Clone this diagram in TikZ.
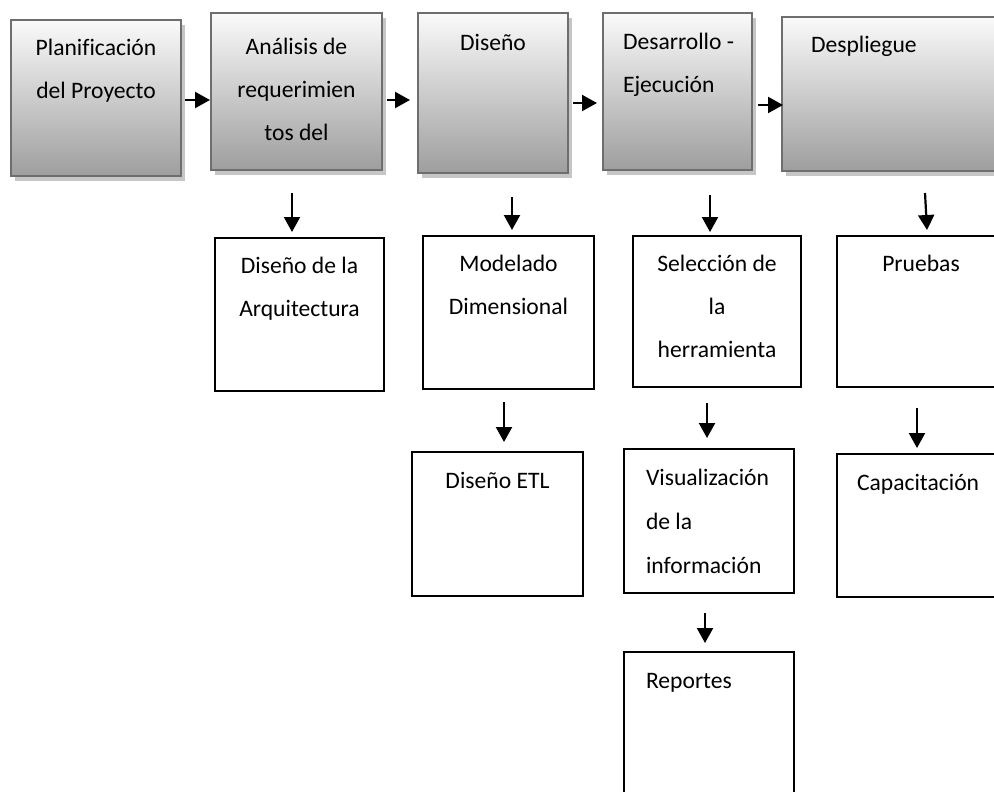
\documentclass[tikz,border=0pt]{standalone}
\usepackage{fontspec}
\setmainfont[Ligatures=NoCommon]{Carlito}
\usetikzlibrary{arrows.meta,shadows}
\definecolor{boxedge}{HTML}{6E6E6E}
\definecolor{shadowgrey}{HTML}{C6C6C6}
\definecolor{gradtop}{HTML}{FAFAFA}
\definecolor{gradbot}{HTML}{9E9E9E}
% centred text block: width, height, first baseline, text
\newcommand{\mkcenter}[4]{\parbox[t][#2][t]{#1}{\fontsize{11.8pt}{21.5pt}\selectfont\centering\rule{0pt}{#3}#4}}
% left-aligned text block: width, height, first baseline, left pad, text
\newcommand{\mkleft}[5]{\parbox[t][#2][t]{#1}{\fontsize{11.8pt}{21.5pt}\selectfont\raggedright\leftskip=#4\relax\rule{0pt}{#3}#5}}
\begin{document}
\begin{tikzpicture}[x=0.5pt,y=-0.5pt,
  phase/.style={draw=boxedge, line width=1.4pt, top color=gradtop, bottom color=gradbot,
    inner sep=0pt, outer sep=0pt, anchor=north west,
    drop shadow={shadow xshift=2pt, shadow yshift=-2.5pt, fill=shadowgrey, opacity=1}},
  task/.style={draw=black, line width=1pt, fill=white, inner sep=0pt, outer sep=0pt, anchor=north west},
  flow/.style={line width=1.1pt, -{Triangle[width=8pt,length=7.5pt]}}]
\fill[white] (0,0) rectangle (994,791);
\clip (0,0) rectangle (994,791);

% project phases
\node[phase] (plan) at (11,20) {\mkcenter{85pt}{78pt}{18pt}{Planificación\\del Proyecto}};
\node[phase] (anal) at (211,13) {\mkcenter{85.5pt}{78.5pt}{21pt}{Análisis de\\requerimien\\tos del}};
\node[phase] (dis) at (418,13) {\mkcenter{75pt}{80pt}{19pt}{Diseño}};
\node[phase] (desa) at (603,13) {\mkleft{74.5pt}{78.5pt}{18.5pt}{10pt}{Desarrollo -\\Ejecución}};
\node[phase] (desp) at (782,17) {\mkleft{115pt}{77pt}{18pt}{14.5pt}{Despliegue}};

% tasks
\node[task] (arq) at (215,238) {\mkcenter{84.5pt}{76.5pt}{17.5pt}{Diseño de la\\Arquitectura}};
\node[task] (mod) at (423,236) {\mkcenter{85.5pt}{76.5pt}{17.5pt}{Modelado\\Dimensional}};
\node[task] (sel) at (633,236) {\mkcenter{84pt}{75.5pt}{17.5pt}{Selección de\\la\\herramienta}};
\node[task] (pru) at (837,236) {\mkcenter{84pt}{75.5pt}{17.5pt}{Pruebas}};
\node[task] (etl) at (412,452) {\mkcenter{85.5pt}{72pt}{18pt}{Diseño ETL}};
\node[task] (vis) at (624,449) {\mkleft{85pt}{72pt}{18pt}{11pt}{\baselineskip=22pt Visualización\\de la\\información}};
\node[task] (cap) at (837,454) {\mkleft{84pt}{71.5pt}{18pt}{10pt}{Capacitación}};
\node[task] (rep) at (624,652) {\mkleft{85pt}{75pt}{18pt}{11pt}{Reportes}};

% phase sequence
\draw[flow] ([shift={(4,2)}]plan.east) -- ([shift={(-1,8.5)}]anal.west);
\draw[flow] ([shift={(5,8.5)}]anal.east) -- ([shift={(-8,7)}]dis.west);
\draw[flow] ([shift={(5,10)}]dis.east) -- ([shift={(-6,11.5)}]desa.west);
\draw[flow] ([shift={(6,13.5)}]desa.east) -- ([shift={(1,11)}]desp.west);

% phase to task
\draw[flow] ([shift={(-4.5,23)}]anal.south) -- ([shift={(-7.5,-6)}]arq.north);
\draw[flow] ([shift={(19,24)}]dis.south) -- ([shift={(3.5,-6)}]mod.north);
\draw[flow] ([shift={(32.5,25)}]desa.south) -- ([shift={(-7,-4)}]sel.north);
\draw[flow] ([shift={(143,22)}]desp.south west) -- ([shift={(6,-6)}]pru.north);

% task to task
\draw[flow] ([shift={(-4.5,13)}]mod.south) -- ([shift={(6.5,-10)}]etl.north);
\draw[flow] ([shift={(-10,16)}]sel.south) -- ([shift={(-2,-11)}]vis.north);
\draw[flow] ([shift={(-4,21)}]pru.south) -- ([shift={(-4,-6)}]cap.north);
\draw[flow] ([shift={(-4,20)}]vis.south) -- ([shift={(-4,-9)}]rep.north);
\end{tikzpicture}
\end{document}
